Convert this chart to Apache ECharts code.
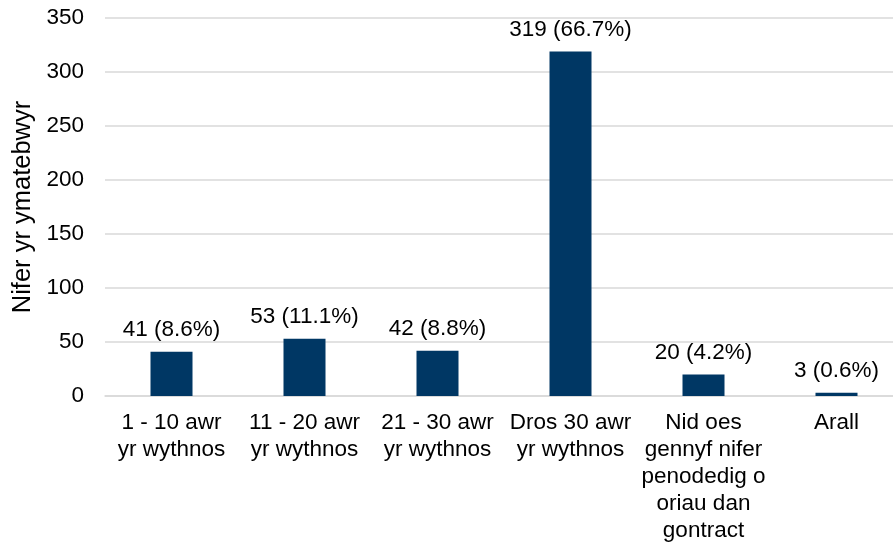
<!DOCTYPE html>
<html>
<head>
<meta charset="utf-8">
<script src="https://cdn.jsdelivr.net/npm/echarts@6/dist/echarts.min.js"></script>
<style>
  html, body { margin: 0; padding: 0; background: #fff; overflow: hidden; }
  #chart { width: 903px; height: 550px; }
</style>
</head>
<body>
<div id="chart"></div>
<script>
const categories = [
  '1 - 10 awr\nyr wythnos',
  '11 - 20 awr\nyr wythnos',
  '21 - 30 awr\nyr wythnos',
  'Dros 30 awr\nyr wythnos',
  'Nid oes\ngennyf nifer\npenodedig o\noriau dan\ngontract',
  'Arall'
]
const counts = [41, 53, 42, 319, 20, 3]
const percents = ['8.6%', '11.1%', '8.8%', '66.7%', '4.2%', '0.6%']

// container is a little wider than the window so the plot runs off the right edge like the original
const chart = echarts.init(document.getElementById('chart'))
const font = 'Liberation Sans, Arial, sans-serif'

chart.setOption({
  animation: false,
  grid: { left: 105, right: 0, top: 18, bottom: 154 },
  xAxis: {
    type: 'category',
    data: categories,
    axisLine: { lineStyle: { color: '#d9d9d9', width: 1.5 } },
    axisTick: { show: false },
    axisLabel: { color: '#000', fontFamily: font, fontSize: 22.5, lineHeight: 27, margin: 13, interval: 0 }
  },
  yAxis: {
    type: 'value',
    min: 0, max: 350, interval: 50,
    name: 'Nifer yr ymatebwyr',
    nameLocation: 'middle',
    nameGap: 67,
    nameTextStyle: { color: '#000', fontFamily: font, fontSize: 25.5 },
    axisLine: { show: false },
    axisTick: { show: false },
    axisLabel: { color: '#000', fontFamily: font, fontSize: 22.5, margin: 21 },
    splitLine: { lineStyle: { color: '#d9d9d9', width: 1.5 } }
  },
  series: [{
    type: 'bar',
    data: counts,
    barWidth: 42,
    itemStyle: { color: '#003764' },
    label: {
      show: true,
      position: 'top',
      distance: 10,
      color: '#000',
      fontFamily: font,
      fontSize: 22.5,
      formatter: p => p.value + ' (' + percents[p.dataIndex] + ')'
    }
  }]
})
</script>
</body>
</html>
